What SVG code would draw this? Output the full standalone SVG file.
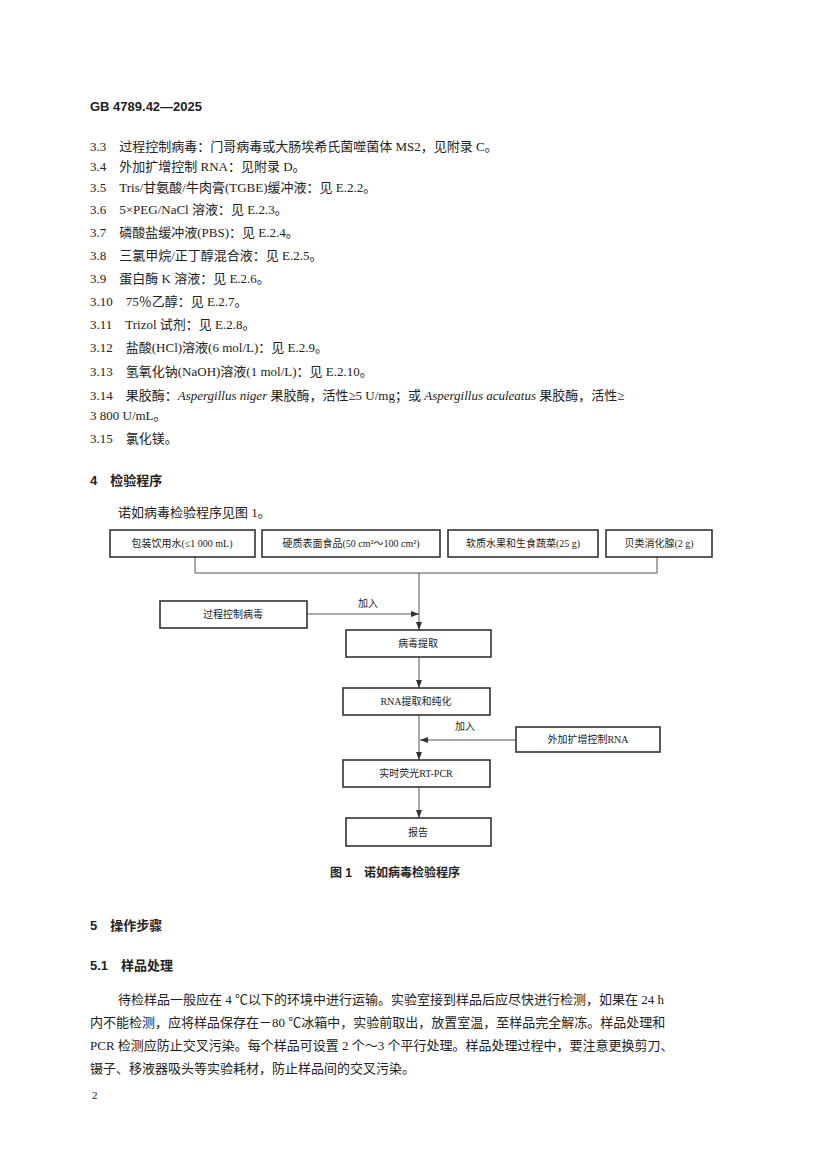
<svg xmlns="http://www.w3.org/2000/svg" width="827" height="1170" viewBox="0 0 827 1170">
<style>
text{font-family:"Liberation Serif","Noto Sans CJK SC",serif;font-size:13px;fill:#222}
.b{font-family:"Liberation Sans","Noto Sans CJK SC",sans-serif;font-weight:bold}
.n rect{fill:#fff;stroke:#333;stroke-width:1.6}
.n text{font-size:10px;text-anchor:middle}
.c{fill:none;stroke:#555;stroke-width:1}
</style>
<defs><marker id="a" markerWidth="8" markerHeight="6" refX="8" refY="3" orient="auto"><path d="M0,0L8,3L0,6z" fill="#333"/></marker></defs>
<rect width="827" height="1170" fill="#fff"/>
<text x="90" y="111" class="b">GB 4789.42—2025</text>
<text x="90" y="151">3.3　过程控制病毒：门哥病毒或大肠埃希氏菌噬菌体 MS2，见附录 C。</text>
<text x="90" y="171">3.4　外加扩增控制 RNA：见附录 D。</text>
<text x="90" y="192">3.5　Tris/甘氨酸/牛肉膏(TGBE)缓冲液：见 E.2.2。</text>
<text x="90" y="214">3.6　5×PEG/NaCl 溶液：见 E.2.3。</text>
<text x="90" y="237">3.7　磷酸盐缓冲液(PBS)：见 E.2.4。</text>
<text x="90" y="260">3.8　三氯甲烷/正丁醇混合液：见 E.2.5。</text>
<text x="90" y="283">3.9　蛋白酶 K 溶液：见 E.2.6。</text>
<text x="90" y="306">3.10　75％乙醇：见 E.2.7。</text>
<text x="90" y="329">3.11　Trizol 试剂：见 E.2.8。</text>
<text x="90" y="352">3.12　盐酸(HCl)溶液(6 mol/L)：见 E.2.9。</text>
<text x="90" y="376">3.13　氢氧化钠(NaOH)溶液(1 mol/L)：见 E.2.10。</text>
<text x="90" y="400">3.14　果胶酶：<tspan font-style="italic">Aspergillus niger</tspan> 果胶酶，活性≥5 U/mg；或 <tspan font-style="italic">Aspergillus aculeatus</tspan> 果胶酶，活性≥</text>
<text x="90" y="420">3 800 U/mL。</text>
<text x="90" y="443">3.15　氯化镁。</text>
<text x="90" y="485" class="b">4　检验程序</text>
<text x="118" y="517">诺如病毒检验程序见图 1。</text>
<g id="connectors">
<path class="c" d="M195,557V573H657V557"/>
<path class="c" d="M419,573V630" marker-end="url(#a)"/>
<path class="c" d="M307,614H419" marker-end="url(#a)"/>
<path class="c" d="M419,657V688" marker-end="url(#a)"/>
<path class="c" d="M419,715V760" marker-end="url(#a)"/>
<path class="c" d="M516,740H420" marker-end="url(#a)"/>
<path class="c" d="M419,787V818" marker-end="url(#a)"/>
<text x="358" y="607" style="font-size:10px">加入</text>
<text x="455" y="730" style="font-size:10px">加入</text>
</g>
<g id="n1" class="n"><rect x="110" y="530" width="145" height="27"/><text x="182" y="547">包装饮用水(≤1 000 mL)</text></g>
<g id="n2" class="n"><rect x="262" y="530" width="178" height="27"/><text x="351" y="547">硬质表面食品(50 cm²～100 cm²)</text></g>
<g id="n3" class="n"><rect x="448" y="530" width="150" height="27"/><text x="523" y="547">软质水果和生食蔬菜(25 g)</text></g>
<g id="n4" class="n"><rect x="606" y="530" width="106" height="27"/><text x="659" y="547">贝类消化腺(2 g)</text></g>
<g id="n5" class="n"><rect x="160" y="601" width="147" height="27"/><text x="233" y="618">过程控制病毒</text></g>
<g id="n6" class="n"><rect x="346" y="630" width="145" height="27"/><text x="418" y="647">病毒提取</text></g>
<g id="n7" class="n"><rect x="343" y="688" width="147" height="27"/><text x="416" y="705">RNA提取和纯化</text></g>
<g id="n8" class="n"><rect x="516" y="727" width="144" height="25"/><text x="588" y="743">外加扩增控制RNA</text></g>
<g id="n9" class="n"><rect x="343" y="760" width="147" height="27"/><text x="416" y="777">实时荧光RT-PCR</text></g>
<g id="n10" class="n"><rect x="346" y="818" width="145" height="28"/><text x="418" y="836">报告</text></g>
<text x="330" y="877" class="b" style="font-size:12px">图 1　诺如病毒检验程序</text>
<text x="90" y="930" class="b">5　操作步骤</text>
<text x="90" y="970" class="b">5.1　样品处理</text>
<text x="118" y="1004">待检样品一般应在 4 ℃以下的环境中进行运输。实验室接到样品后应尽快进行检测，如果在 24 h</text>
<text x="90" y="1027">内不能检测，应将样品保存在－80 ℃冰箱中，实验前取出，放置室温，至样品完全解冻。样品处理和</text>
<text x="90" y="1050">PCR 检测应防止交叉污染。每个样品可设置 2 个～3 个平行处理。样品处理过程中，要注意更换剪刀、</text>
<text x="90" y="1073">镊子、移液器吸头等实验耗材，防止样品间的交叉污染。</text>
<text x="92" y="1099" style="font-size:11px">2</text>
</svg>
